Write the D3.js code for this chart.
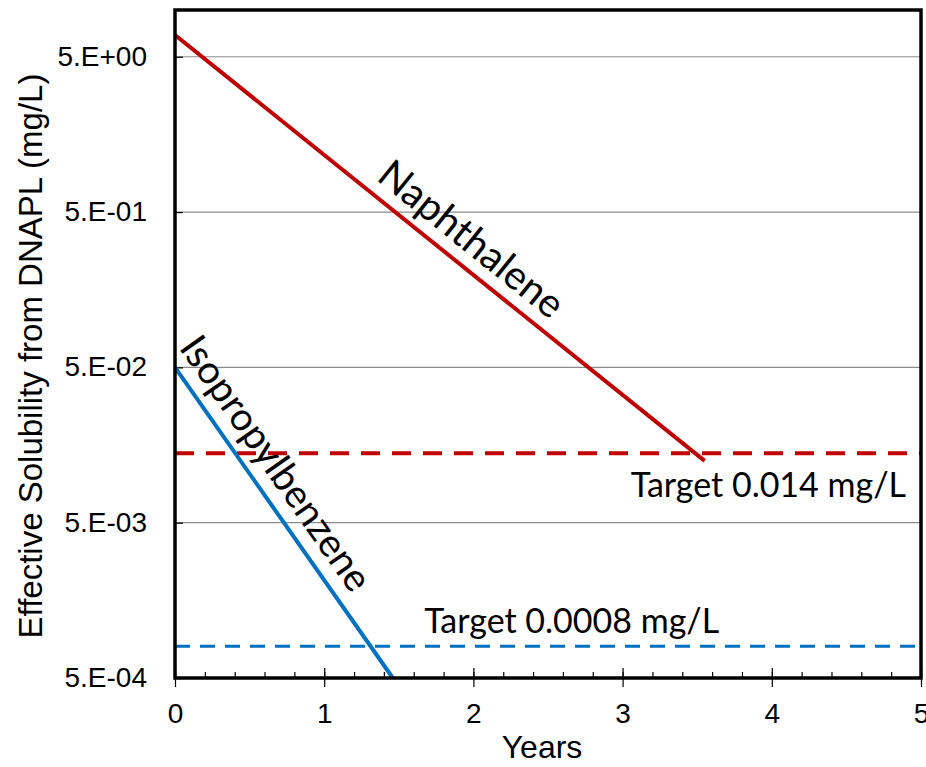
<!DOCTYPE html>
<html lang="en">
<head>
    <meta charset="UTF-8">
    <title>Effective Solubility from DNAPL</title>
    <script src="https://d3js.org/d3.v7.min.js"></script>
    <style>
        body { margin: 0; background: #fff; }
    </style>
</head>
<body>
    <svg id="chart" width="926" height="767"></svg>

    <script>
        // data
        const xTicks = [0, 1, 2, 3, 4, 5];
        const yTicks = [5, 0.5, 0.05, 0.005, 0.0005];
        const yTickLabels = ["5.E+00", "5.E-01", "5.E-02", "5.E-03", "5.E-04"];

        const naphYears = [0, 3.55];
        const naphValues = [6.9, 0.0125];
        const isoYears = [0, 1.46];
        const isoValues = [0.05, 0.0005];

        const naphTarget = 0.014;
        const isoTarget = 0.0008;
        const naphTargetLabel = "Target 0.014 mg/L";
        const isoTargetLabel = "Target 0.0008 mg/L";

        const red = "#C00000";
        const blue = "#0070C0";

        const margin = { top: 10, right: 5, bottom: 89, left: 175 };
        const width = 926 - margin.left - margin.right;
        const height = 767 - margin.top - margin.bottom;

        const svg = d3.select("#chart")
            .append("g")
            .attr("transform", "translate(" + margin.left + "," + margin.top + ")");

        const x = d3.scaleLinear().domain([0, 5]).range([0, width]);
        const y = d3.scaleLog().domain([0.0005, 10]).range([height, 0]);

        // gridlines
        svg.selectAll(".grid")
            .data(yTicks)
            .enter().append("line")
            .attr("x1", 0).attr("x2", width)
            .attr("y1", d => y(d)).attr("y2", d => y(d))
            .attr("stroke", "#8c8c8c")
            .attr("stroke-width", 1.2);

        // y axis: inner ticks, custom labels
        const yAxis = svg.append("g")
            .call(d3.axisLeft(y).tickValues(yTicks)
                .tickSize(-8)
                .tickFormat((d, i) => yTickLabels[i])
                .tickPadding(28));
        yAxis.select(".domain").remove();
        yAxis.selectAll("line").attr("stroke", "#000").attr("stroke-width", 1.2);
        yAxis.selectAll("text")
            .style("font-family", "Liberation Sans, Arial, sans-serif")
            .style("font-size", "28px")
            .attr("fill", "#000")
            .attr("dy", "0.3em");

        // x axis: minor ticks inside, major ticks crossing
        const xMinor = svg.append("g")
            .attr("transform", "translate(0," + height + ")")
            .call(d3.axisBottom(x).ticks(25).tickSize(-6).tickFormat(""));
        xMinor.select(".domain").remove();
        xMinor.selectAll("line").attr("stroke", "#000").attr("stroke-width", 1.2);

        const xAxis = svg.append("g")
            .attr("transform", "translate(0," + height + ")")
            .call(d3.axisBottom(x).tickValues(xTicks).tickSize(9).tickPadding(16)
                .tickFormat(d3.format("d")));
        xAxis.select(".domain").remove();
        xAxis.selectAll("line").attr("stroke", "#000").attr("stroke-width", 1.2);
        xAxis.selectAll(".tick").append("line")
            .attr("y1", 0).attr("y2", -10)
            .attr("stroke", "#000").attr("stroke-width", 1.2);
        xAxis.selectAll("text")
            .style("font-family", "Liberation Sans, Arial, sans-serif")
            .style("font-size", "28px")
            .attr("fill", "#000");

        // target lines
        svg.append("line")
            .attr("x1", x(0)).attr("x2", x(5))
            .attr("y1", y(naphTarget)).attr("y2", y(naphTarget))
            .attr("stroke", red).attr("stroke-width", 4)
            .attr("stroke-dasharray", "19,12");

        svg.append("line")
            .attr("x1", x(0)).attr("x2", x(5))
            .attr("y1", y(isoTarget)).attr("y2", y(isoTarget))
            .attr("stroke", blue).attr("stroke-width", 3)
            .attr("stroke-dasharray", "15,10");

        // decay lines
        const line = d3.line().x(d => x(d[0])).y(d => y(d[1]));

        svg.append("path")
            .datum(d3.zip(naphYears, naphValues))
            .attr("d", line)
            .attr("fill", "none")
            .attr("stroke", red)
            .attr("stroke-width", 4);

        svg.append("path")
            .datum(d3.zip(isoYears, isoValues))
            .attr("d", line)
            .attr("fill", "none")
            .attr("stroke", blue)
            .attr("stroke-width", 4);

        // labels along the lines
        function lineLabel(xs, vs, t, text, size, offset) {
            const x0 = x(xs[0]), y0 = y(vs[0]), x1 = x(xs[1]), y1 = y(vs[1]);
            const angle = Math.atan2(y1 - y0, x1 - x0) * 180 / Math.PI;
            const px = x0 + (x1 - x0) * t, py = y0 + (y1 - y0) * t;
            svg.append("text")
                .attr("transform", "translate(" + px + "," + py + ") rotate(" + angle + ")")
                .attr("text-anchor", "middle")
                .attr("dy", -offset)
                .style("font-family", "Lato, sans-serif")
                .style("font-size", size + "px")
                .text(text);
        }
        lineLabel(naphYears, naphValues, 0.528, "Naphthalene", 40, 13);
        lineLabel(isoYears, isoValues, 0.36, "Isopropylbenzene", 39, 14);

        svg.append("text")
            .attr("x", width - 15)
            .attr("y", y(naphTarget) + 44)
            .attr("text-anchor", "end")
            .style("font-family", "Lato, sans-serif")
            .style("font-size", "34px")
            .text(naphTargetLabel);

        svg.append("text")
            .attr("x", x(1.67))
            .attr("y", y(isoTarget) - 13)
            .attr("text-anchor", "start")
            .style("font-family", "Lato, sans-serif")
            .style("font-size", "34px")
            .text(isoTargetLabel);

        // frame
        svg.append("rect")
            .attr("width", width).attr("height", height)
            .attr("fill", "none")
            .attr("stroke", "#000")
            .attr("stroke-width", 3.5);

        // axis titles
        svg.append("text")
            .attr("x", width / 2 - 6)
            .attr("y", height + 80)
            .attr("text-anchor", "middle")
            .style("font-family", "Liberation Sans, Arial, sans-serif")
            .style("font-size", "32px")
            .text("Years");

        svg.append("text")
            .attr("transform", "rotate(-90)")
            .attr("x", -(356 - margin.top))
            .attr("y", -margin.left + 42)
            .attr("text-anchor", "middle")
            .style("font-family", "Liberation Sans, Arial, sans-serif")
            .style("font-size", "33px")
            .text("Effective Solubility from DNAPL (mg/L)");
    </script>
</body>
</html>
